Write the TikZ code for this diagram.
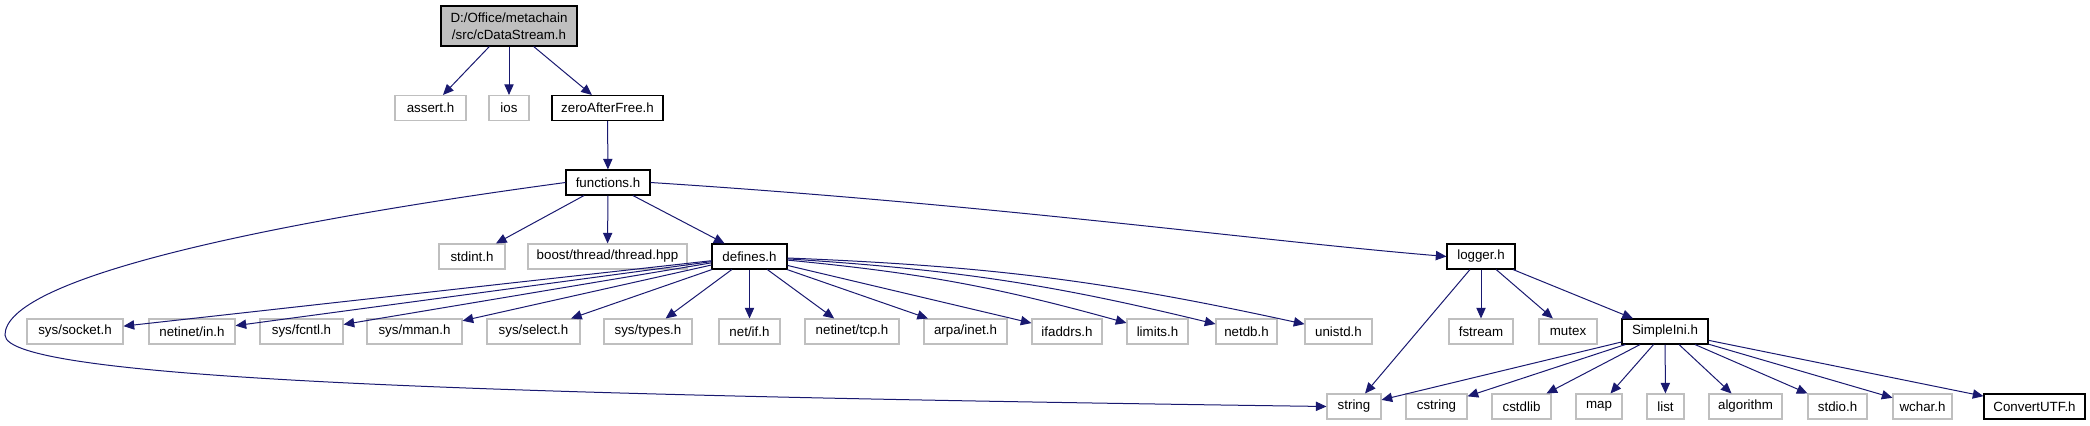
\documentclass[tikz,border=0pt]{standalone}
\usepackage{fontspec}
\setmainfont{Liberation Sans}
\usetikzlibrary{arrows.meta}
\definecolor{grey75}{HTML}{BFBFBF}
\definecolor{edgeblue}{HTML}{191970}

\begin{document}
\begin{tikzpicture}[x=0.75pt, y=-0.75pt,
    every node/.style={font=\fontsize{10}{13}\selectfont, inner sep=1pt, minimum height=25*0.75pt},
    root/.style={draw=black, fill=grey75, line width=0.8pt, align=center, minimum width=#1*0.75pt, minimum height=40*0.75pt},
    inc/.style={draw=black, fill=white, line width=0.8pt, minimum width=#1*0.75pt},
    sys/.style={draw=grey75, fill=white, line width=0.8pt, minimum width=#1*0.75pt},
    dep/.style={draw=edgeblue, line width=0.75pt, -{Triangle[length=8pt,width=7pt]}}]
    \useasboundingbox (0,0) rectangle (2090,425);

    % 1. Top file and its includes
    \node[root=136] (cds) at (509,26) {D:/Office/metachain\\/src/cDataStream.h};
    \node[sys=71] (assert) at (430.5,108) {assert.h};
    \node[sys=40] (ios) at (509,108) {ios};
    \node[inc=111] (zero) at (607.5,108) {zeroAfterFree.h};
    \node[inc=84] (functions) at (608,182.5) {functions.h};

    % 2. Includes of functions.h
    \node[sys=66] (stdint) at (472,256.5) {stdint.h};
    \node[sys=159] (boost) at (607.5,256.5) {boost/thread/thread.hpp};
    \node[inc=75] (defines) at (749.5,256.5) {defines.h};
    \node[inc=68] (logger) at (1481,256.5) {logger.h};

    % 3. Includes of defines.h
    \node[sys=96] (socket) at (75,331.5) {sys/socket.h};
    \node[sys=86] (netin) at (192,331.5) {netinet/in.h};
    \node[sys=83] (fcntl) at (301.5,331.5) {sys/fcntl.h};
    \node[sys=95] (mman) at (414.5,331.5) {sys/mman.h};
    \node[sys=93] (select) at (533.5,331.5) {sys/select.h};
    \node[sys=88] (types) at (648,331.5) {sys/types.h};
    \node[sys=61] (netif) at (749.5,331.5) {net/if.h};
    \node[sys=94] (tcp) at (852,331.5) {netinet/tcp.h};
    \node[sys=83] (arpa) at (965.5,331.5) {arpa/inet.h};
    \node[sys=70] (ifaddrs) at (1067,331.5) {ifaddrs.h};
    \node[sys=61] (limits) at (1157.5,331.5) {limits.h};
    \node[sys=61] (netdb) at (1246.5,331.5) {netdb.h};
    \node[sys=67] (unistd) at (1338.5,331.5) {unistd.h};

    % 4. Includes of logger.h
    \node[sys=64] (fstream) at (1481,331.5) {fstream};
    \node[sys=58] (mutex) at (1568,331.5) {mutex};
    \node[inc=86] (ini) at (1665,331.5) {SimpleIni.h};

    % 5. Includes of SimpleIni.h
    \node[sys=54] (string) at (1354,406.5) {string};
    \node[sys=61] (cstring) at (1436.5,406.5) {cstring};
    \node[sys=59] (cstdlib) at (1521.5,406.5) {cstdlib};
    \node[sys=46] (map) at (1599,406.5) {map};
    \node[sys=37] (list) at (1665.5,406.5) {list};
    \node[sys=73] (algorithm) at (1745.5,406.5) {algorithm};
    \node[sys=59] (stdio) at (1837.5,406.5) {stdio.h};
    \node[sys=59] (wchar) at (1922.5,406.5) {wchar.h};
    \node[inc=101] (convert) at (2034.5,406.5) {ConvertUTF.h};

    % 6. Arrows
    \foreach \t in {assert,ios,zero}
        \draw[dep] (cds) -- (\t);
    \draw[dep] (zero) -- (functions);
    \foreach \t in {stdint,boost,defines}
        \draw[dep] (functions) -- (\t);
    \coordinate (loopL) at (5,335);
    \draw[dep] (functions.west) .. controls (250,225) and (5,280) .. (loopL)
        .. controls (5,380) and (500,395) .. (string.west);
    \draw[dep] (functions.east) .. controls (1000,205) and (1250,240) .. (logger.west);
    \foreach \t in {socket,netin,fcntl,mman,select,types,netif,tcp,arpa,ifaddrs}
        \draw[dep] (defines) -- (\t);
    \foreach \t in {limits,netdb,unistd}
        \draw[dep] (defines) to[bend left=5] (\t);
    \foreach \t in {string,fstream,mutex,ini}
        \draw[dep] (logger) -- (\t);
    \foreach \t in {string,cstring,cstdlib,map,list,algorithm,stdio,wchar,convert}
        \draw[dep] (ini) -- (\t);
\end{tikzpicture}
\end{document}
